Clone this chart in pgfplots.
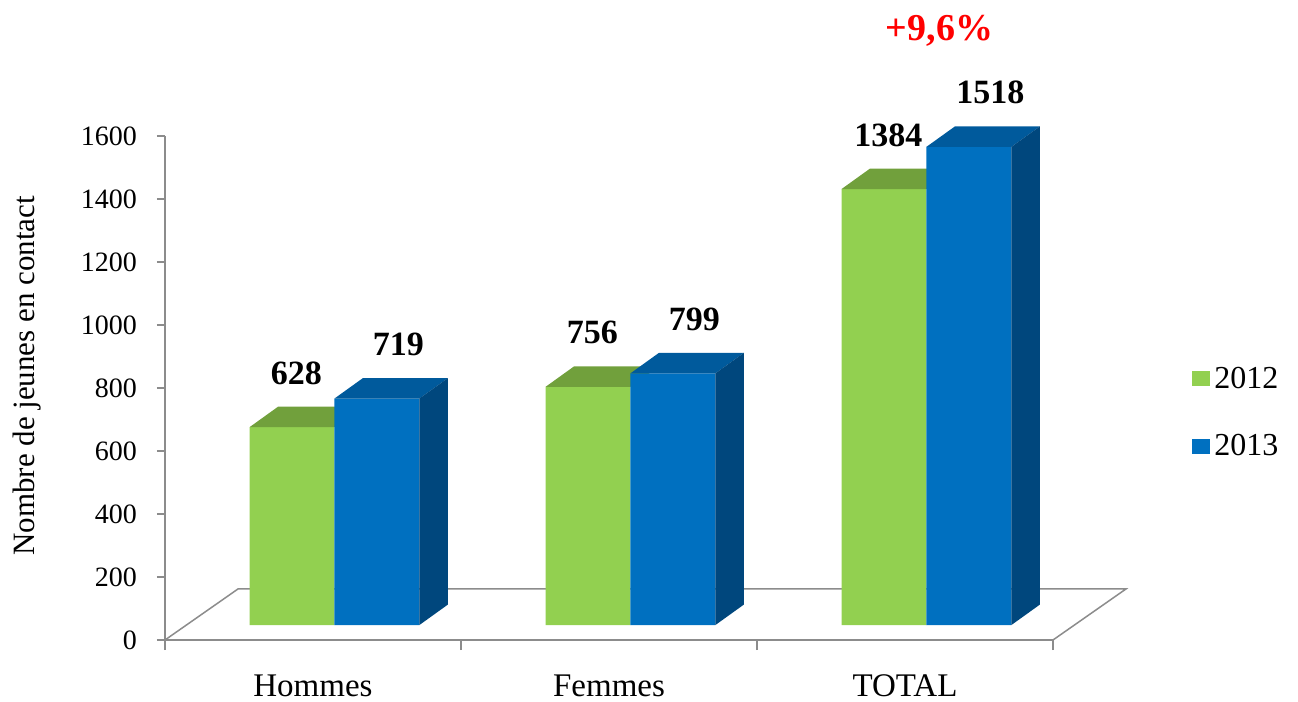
\documentclass[border=0pt]{standalone}
\usepackage{fontspec}
\setmainfont{Liberation Serif}
\usepackage{pgfplots}
\pgfplotsset{compat=1.18}
\definecolor{gfront}{HTML}{92D050}
\definecolor{gtop}{HTML}{71A03C}
\definecolor{bfront}{HTML}{0070C0}
\definecolor{btop}{HTML}{005A9C}
\definecolor{bside}{HTML}{00477D}
\definecolor{axisgray}{RGB}{140,140,140}
\pgfplotsset{/pgf/number format/.cd, 1000 sep={}, assume math mode=true}
\begin{document}
\begin{tikzpicture}
% ---------- frame axis: ticks, labels, floor ----------
\begin{axis}[
  scale only axis, width=444pt, height=252pt,
  xmin=0, xmax=3, ymin=0, ymax=1600,
  clip=false,
  axis lines*=left,
  axis line style={draw=axisgray, line width=0.75pt},
  tick align=outside,
  ytick={0,200,...,1600},
  major tick length=4pt,
  minor tick length=5pt,
  ytick style={draw=axisgray, line width=0.75pt},
  xtick={0.5,1.5,2.5},
  xticklabels={Hommes,Femmes,TOTAL},
  minor xtick={0,1,2,3},
  major x tick style={draw=none},
  minor x tick style={draw=axisgray, line width=0.75pt},
  yticklabel style={font=\fontsize{14}{16}\selectfont, xshift=-6.5pt},
  xticklabel style={font=\fontsize{16.5}{19}\selectfont, anchor=center, yshift=-19pt},
  ylabel={Nombre de jeunes en contact},
  ylabel style={font=\fontsize{15.5}{18}\selectfont, at={(axis description cs:-0.155,0.524)}, anchor=center},
]
\addplot[draw=axisgray, line width=0.75pt, fill=white] coordinates {(0,0) (3,0) (3.2466,162) (0.2466,162)} -- cycle;
\node[text=red, font=\bfseries\fontsize{19}{22}\selectfont] at (axis cs:2.6166,1935) {+9,6\%};
\end{axis}
% ---------- bars axis (front plane of the bars) ----------
\begin{axis}[
  scale only axis, width=444pt, height=252pt,
  xmin=-0.0726, xmax=2.9274, ymin=-47.6, ymax=1552.4,
  hide axis, clip=false,
  legend style={at={(axis description cs:1.1566,0.55)}, anchor=north west, draw=none, fill=none,
    font=\fontsize{16}{19}\selectfont, row sep=17.5pt, inner sep=0pt, legend cell align=left},
]
% 2012 front faces
\addplot[ybar, bar width=0.287, bar shift=-0.1435, fill=gfront, draw=none,
  legend image code/.code={\fill[gfront] (0pt,-3.5pt) rectangle (9pt,4pt);},
  nodes near coords,
  every node near coord/.append style={font=\bfseries\fontsize{17}{20}\selectfont, anchor=center, yshift=27pt, xshift=-19pt, text=black}]
  coordinates {(0.5,628) (1.5,756) (2.5,1384)};
% 2012 top faces
\addplot[fill=gtop, draw=none, forget plot] coordinates {(0.213,628) (0.5,628) (0.5963,693) (0.3093,693)} -- cycle;
\addplot[fill=gtop, draw=none, forget plot] coordinates {(1.213,756) (1.5,756) (1.5963,821) (1.3093,821)} -- cycle;
\addplot[fill=gtop, draw=none, forget plot] coordinates {(2.213,1384) (2.5,1384) (2.5963,1449) (2.3093,1449)} -- cycle;
% 2013 front faces
\addplot[ybar, bar width=0.287, bar shift=0.1435, fill=bfront, draw=none,
  legend image code/.code={\fill[bfront] (0pt,-3.5pt) rectangle (9pt,4pt);},
  nodes near coords,
  every node near coord/.append style={font=\bfseries\fontsize{17}{20}\selectfont, anchor=center, yshift=27pt, xshift=32pt, text=black}]
  coordinates {(0.5,719) (1.5,799) (2.5,1518)};
% 2013 top faces
\addplot[fill=btop, draw=none, forget plot] coordinates {(0.5,719) (0.787,719) (0.8833,784) (0.5963,784)} -- cycle;
\addplot[fill=btop, draw=none, forget plot] coordinates {(1.5,799) (1.787,799) (1.8833,864) (1.5963,864)} -- cycle;
\addplot[fill=btop, draw=none, forget plot] coordinates {(2.5,1518) (2.787,1518) (2.8833,1583) (2.5963,1583)} -- cycle;
% 2013 side faces
\addplot[fill=bside, draw=none, forget plot] coordinates {(0.787,0) (0.787,719) (0.8833,784) (0.8833,65)} -- cycle;
\addplot[fill=bside, draw=none, forget plot] coordinates {(1.787,0) (1.787,799) (1.8833,864) (1.8833,65)} -- cycle;
\addplot[fill=bside, draw=none, forget plot] coordinates {(2.787,0) (2.787,1518) (2.8833,1583) (2.8833,65)} -- cycle;
\legend{2012,2013}
\end{axis}
\pgfresetboundingbox
\path[use as bounding box] (-82.5pt,-31pt) rectangle (566.5pt,320pt);
\end{tikzpicture}
\end{document}
